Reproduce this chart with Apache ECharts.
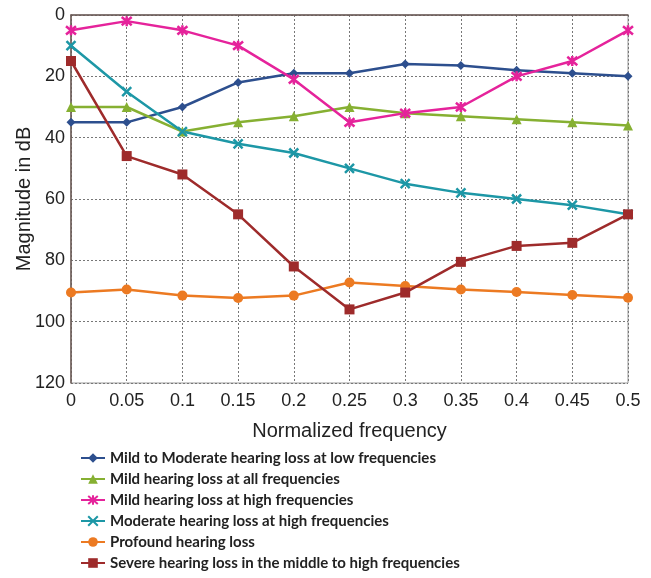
<!DOCTYPE html>
<html>
<head>
<meta charset="utf-8">
<script src="https://cdn.jsdelivr.net/npm/echarts@6/dist/echarts.min.js"></script>
<style>
	html, body { margin: 0; padding: 0; background: #fff; }
	#chart { width: 651px; height: 578px; }
</style>
</head>
<body>
<div id="chart"></div>
<script>
var freqs = ['0', '0.05', '0.1', '0.15', '0.2', '0.25', '0.3', '0.35', '0.4', '0.45', '0.5'];

var mildModLow = [35, 35, 30, 22, 19, 19, 16, 16.5, 18, 19, 20];
var mildAll = [30, 30, 38, 35, 33, 30, 32, 33, 34, 35, 36];
var mildHigh = [5, 2, 5, 10, 21, 35, 32, 30, 20, 15, 5];
var moderateHigh = [10, 25, 38, 42, 45, 50, 55, 58, 60, 62, 65];
var profound = [90.5, 89.5, 91.5, 92.3, 91.5, 87.2, 88.4, 89.5, 90.3, 91.3, 92.2];
var severeMid = [15, 46, 52, 65, 82, 96, 90.5, 80.5, 75.3, 74.3, 65];

var names = [
	'Mild to Moderate hearing loss at low frequencies',
	'Mild hearing loss at all frequencies',
	'Mild hearing loss at high frequencies',
	'Moderate hearing loss at high frequencies',
	'Profound hearing loss',
	'Severe hearing loss in the middle to high frequencies'
];
var colors = ['#2d4f8e', '#86b032', '#e5239b', '#1d97a6', '#ec7a22', '#9e2b2b'];

// asterisk and cross markers are drawn as stroked paths
var starPath = 'path://M0,0L10,10M10,0L0,10M5,-1L5,11';
var crossPath = 'path://M0,0L10,10M10,0L0,10';

function mkSeries(name, data, color, symbol, size, stroked) {
	return {
		name: name,
		type: 'line',
		data: data,
		symbol: symbol,
		symbolSize: size,
		showAllSymbol: true,
		lineStyle: { color: color, width: 2.5 },
		itemStyle: stroked
			? { color: color, borderColor: color, borderWidth: 2.5 }
			: { color: color, borderWidth: 0 },
		z: 3
	};
}

var chart = echarts.init(document.getElementById('chart'));
chart.setOption({
	animation: false,
	color: colors,
	grid: {
		left: 71, top: 15, right: 23, bottom: 195,
		outerBoundsMode: 'none',
		show: true, borderColor: '#9a9a9a', borderWidth: 1
	},
	legend: {
		orient: 'vertical',
		left: 80,
		top: 450,
		padding: 0,
		itemWidth: 24,
		itemHeight: 12,
		itemGap: 5,
		textStyle: { fontFamily: 'Lato', fontSize: 15, fontWeight: 'bold', color: '#222', lineHeight: 16 },
		data: names
	},
	xAxis: {
		type: 'category',
		data: freqs,
		boundaryGap: false,
		name: 'Normalized frequency',
		nameLocation: 'middle',
		nameGap: 38,
		nameTextStyle: { fontFamily: 'Liberation Sans', fontSize: 20, color: '#222' },
		axisLine: { lineStyle: { color: '#6b5a55', width: 1.5 } },
		axisTick: { show: false },
		axisLabel: { fontFamily: 'Liberation Sans', fontSize: 18, color: '#222', margin: 9 },
		splitLine: { show: true, lineStyle: { color: '#777', type: [2, 2], width: 1 } }
	},
	yAxis: {
		type: 'value',
		inverse: true,
		min: 0,
		max: 120,
		interval: 20,
		name: 'Magnitude in dB',
		nameLocation: 'middle',
		nameGap: 37,
		nameRotate: 90,
		nameMoveOverlap: false,
		nameTextStyle: { fontFamily: 'Liberation Sans', fontSize: 20, color: '#222' },
		axisLine: { show: true, onZero: false, lineStyle: { color: '#6b5a55', width: 1.5 } },
		axisTick: { show: false },
		axisLabel: { fontFamily: 'Liberation Sans', fontSize: 18, color: '#222', margin: 6 },
		splitLine: { show: true, lineStyle: { color: '#777', type: [2, 2], width: 1 } }
	},
	series: [
		mkSeries(names[0], mildModLow, colors[0], 'diamond', 9, false),
		mkSeries(names[1], mildAll, colors[1], 'triangle', 10, false),
		mkSeries(names[2], mildHigh, colors[2], starPath, 10, true),
		mkSeries(names[3], moderateHigh, colors[3], crossPath, 9, true),
		mkSeries(names[4], profound, colors[4], 'circle', 10, false),
		mkSeries(names[5], severeMid, colors[5], 'rect', 10, false)
	]
});
</script>
</body>
</html>
